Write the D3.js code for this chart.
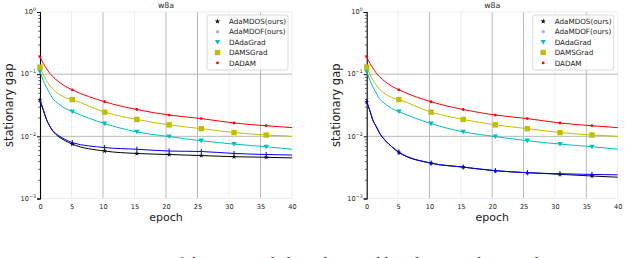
<!DOCTYPE html>
<html>
<head>
<meta charset="utf-8">
<script src="https://cdn.jsdelivr.net/npm/d3@7"></script>
<style>
    body { margin: 0; background: #fff; }
    svg { display: block; font-family: "DejaVu Sans", sans-serif; }
</style>
</head>
<body>
<div class="board"></div>
<script>
var width = 630,
    height = 258;

var svg = d3.select(".board")
    .append("svg")
    .attr("width", width)
    .attr("height", height)

const epochs = [0, 0.5, 1, 1.5, 2, 3, 4, 5.13, 10.26, 15.38, 20.5, 25.6, 30.8, 35.9, 40]
const markerEpochs = [0, 5.13, 10.26, 15.38, 20.5, 25.6, 30.8, 35.9]

const xTicks = [0, 5, 10, 15, 20, 25, 30, 35, 40]
const yTicks = [1, 0.1, 0.01, 0.001]
const yTickExp = ["0", "\u22121", "\u22122", "\u22123"]

const legendNames = ["AdaMDOS(ours)", "AdaMDOF(ours)", "DAdaGrad", "DAMSGrad", "DADAM"]

// left panel, ours
const adaMDOSLeft = [0.038, 0.027, 0.019, 0.0148, 0.0123, 0.0098, 0.0085, 0.0075, 0.0058, 0.0053, 0.0051, 0.0049, 0.0047, 0.0046, 0.0045]
const adaMDOFLeft = [0.038, 0.027, 0.019, 0.015, 0.0125, 0.0102, 0.0089, 0.0079, 0.0066, 0.0062, 0.0058, 0.0057, 0.0053, 0.0051, 0.0050]
// right panel, ours
const adaMDOSRight = [0.036, 0.026, 0.018, 0.0145, 0.0115, 0.0085, 0.0068, 0.0055, 0.0037, 0.0032, 0.0028, 0.0026, 0.00245, 0.0023, 0.0022]
const adaMDOFRight = [0.036, 0.026, 0.018, 0.0145, 0.0115, 0.0085, 0.0068, 0.0056, 0.0037, 0.0032, 0.0028, 0.0026, 0.0025, 0.00244, 0.0024]
// baselines (same in both panels)
const dAdaGrad = [0.11, 0.08, 0.062, 0.05, 0.041, 0.033, 0.028, 0.025, 0.016, 0.0118, 0.0099, 0.0085, 0.0075, 0.0068, 0.0062]
const dAMSGrad = [0.13, 0.1, 0.08, 0.067, 0.058, 0.048, 0.042, 0.039, 0.0245, 0.0187, 0.0153, 0.0133, 0.0115, 0.0105, 0.0100]
const dADAM = [0.19, 0.15, 0.125, 0.105, 0.092, 0.075, 0.064, 0.056, 0.036, 0.027, 0.022, 0.0193, 0.0164, 0.0148, 0.0138]

const BLACK = "#000000"
const BLUE = "#0000ff"
const CYAN = "#00bfbf"
const OLIVE = "#bfbf00"
const RED = "#ff0000"

const styles = [
    { color: BLACK, marker: "star" },
    { color: BLUE, marker: "tick" },
    { color: CYAN, marker: "tri" },
    { color: OLIVE, marker: "square" },
    { color: RED, marker: "dot" },
]

// grid lines come out uneven in the picture
const darkGridX = [10, 20, 25, 35]

function drawMarker(g, kind, color, cx, cy, legend) {
    if (kind == "star") {
        g.append("path")
            .attr("d", d3.symbol().type(d3.symbolStar).size(legend ? 9 : 8)())
            .attr("transform", `translate(${cx},${cy})`)
            .attr("fill", color)
    }
    else if (kind == "tick") {
        if (legend) {
            g.append("circle").attr("cx", cx).attr("cy", cy).attr("r", 1.8).attr("fill", "#aab0ff")
        }
        else {
            g.append("line")
                .attr("x1", cx).attr("x2", cx)
                .attr("y1", cy - 2.6).attr("y2", cy + 2.6)
                .attr("stroke", color).attr("stroke-width", 1)
        }
    }
    else if (kind == "tri") {
        g.append("path")
            .attr("d", `M${cx - 2.7},${cy - 2.1}L${cx + 2.7},${cy - 2.1}L${cx},${cy + 2.5}Z`)
            .attr("fill", color)
    }
    else if (kind == "square") {
        g.append("rect")
            .attr("x", cx - 2.7).attr("y", cy - 2.7)
            .attr("width", 5.4).attr("height", 5.4)
            .attr("fill", color)
    }
    else {
        g.append("circle").attr("cx", cx).attr("cy", cy).attr("r", 1.4).attr("fill", color)
    }
}

function drawPanel(left, right, seriesValues) {
    let x = d3.scaleLinear().domain([0, 40]).range([left, right])
    let y = d3.scaleLog().domain([1e-3, 1]).range([198.5, 12])

    let g = svg.append("g")

    // frame + grid
    g.selectAll(".vgrid")
        .data(xTicks.slice(1))
        .enter()
        .append("line")
        .attr("x1", d => x(d)).attr("x2", d => x(d))
        .attr("y1", y(1)).attr("y2", y(1e-3))
        .attr("stroke", d => darkGridX.includes(d) ? "#b0b0b0" : "#ebebeb")
        .attr("stroke-width", 0.9)

    g.selectAll(".hgrid")
        .data(yTicks)
        .enter()
        .append("line")
        .attr("x1", x(0)).attr("x2", x(40))
        .attr("y1", d => y(d)).attr("y2", d => y(d))
        .attr("stroke", d => (d == 0.1 || d == 0.01) ? "#b0b0b0" : "#ebebeb")
        .attr("stroke-width", 0.9)

    // x ticks
    let xAxis = g.append("g")
        .attr("transform", `translate(0, ${y(1e-3)})`)
        .call(d3.axisBottom(x).tickValues(xTicks).tickSize(0).tickPadding(5.5))
    xAxis.select(".domain").remove()
    xAxis.selectAll("text")
        .attr("font-size", 6.6)
        .attr("font-family", "DejaVu Sans")
        .attr("fill", "#222")

    // y minor ticks
    let minor = []
    for (let k = -3; k < 0; k++) {
        for (let m = 2; m < 10; m++) minor.push(m * Math.pow(10, k))
    }
    let yMinor = g.append("g")
        .attr("transform", `translate(${x(0)}, 0)`)
        .call(d3.axisLeft(y).tickValues(minor).tickSize(1.8).tickFormat(""))
    yMinor.select(".domain").remove()
    yMinor.selectAll("line").attr("stroke-width", 0.6)

    let yAxis = g.append("g")
        .attr("transform", `translate(${x(0)}, 0)`)
        .call(d3.axisLeft(y).tickValues(yTicks).tickSize(3).tickFormat(""))
    yAxis.select(".domain").attr("stroke-width", 1.1)

    yTicks.forEach((v, i) => {
        let t = g.append("text")
            .attr("x", x(0) - 4)
            .attr("y", y(v) + 2.3)
            .attr("text-anchor", "end")
            .attr("font-size", 6.6)
            .attr("fill", "#222")
        t.append("tspan").text("10")
        t.append("tspan").attr("dy", -3).attr("font-size", 4.8).text(yTickExp[i])
    })

    // curves
    let line = d3.line()
        .x(d => x(d[0]))
        .y(d => y(d[1]))
        .curve(d3.curveMonotoneX)

    seriesValues.forEach((vals, s) => {
        let pts = epochs.map((e, i) => [e, vals[i]])
        g.append("path")
            .datum(pts)
            .attr("d", line)
            .attr("fill", "none")
            .attr("stroke", styles[s].color)
            .attr("stroke-width", 1)

        let mg = g.append("g")
        pts.filter(p => markerEpochs.includes(p[0]))
            .forEach(p => drawMarker(mg, styles[s].marker, styles[s].color, x(p[0]), y(p[1]), false))
    })

    // title, labels
    let mid = (left + right) / 2
    g.append("text")
        .text("w8a")
        .attr("x", mid).attr("y", 8.2)
        .attr("text-anchor", "middle")
        .attr("font-size", 7.8)
        .attr("fill", "#222")

    g.append("text")
        .text("epoch")
        .attr("x", mid).attr("y", 220.5)
        .attr("text-anchor", "middle")
        .attr("font-size", 11)
        .attr("fill", "#222")

    g.append("text")
        .text("stationary gap")
        .attr("transform", `translate(${left - 27}, ${(y(1) + y(1e-3)) / 2}) rotate(-90)`)
        .attr("text-anchor", "middle")
        .attr("font-size", 11.5)
        .attr("fill", "#222")

    // legend
    let lx = right - 85, ly = 15
    let lg = g.append("g")
    lg.append("rect")
        .attr("x", lx).attr("y", ly)
        .attr("width", 81).attr("height", 55)
        .attr("rx", 2)
        .attr("fill", "white").attr("fill-opacity", 0.85)
        .attr("stroke", "#d0d0d0").attr("stroke-width", 0.8)

    legendNames.forEach((name, i) => {
        let cy = ly + 6.3 + i * 10.4
        drawMarker(lg, styles[i].marker, styles[i].color, lx + 10.5, cy, true)
        lg.append("text")
            .text(name)
            .attr("x", lx + 22).attr("y", cy + 2.6)
            .attr("font-size", 7.2)
            .attr("fill", "#222")
    })
}

drawPanel(40, 292, [adaMDOSLeft, adaMDOFLeft, dAdaGrad, dAMSGrad, dADAM])
drawPanel(366.7, 617.7, [adaMDOSRight, adaMDOFRight, dAdaGrad, dAMSGrad, dADAM])

// caption of the page, cut off at the bottom edge in the reference
svg.append("text")
    .text("Figure 1: Stationary gap of the proposed algorithms and baselines on the w8a dataset.")
    .attr("x", 0).attr("y", 268.5)
    .attr("font-family", "Liberation Serif")
    .attr("font-size", 17)
    .attr("fill", "#333")
</script>
</body>
</html>
